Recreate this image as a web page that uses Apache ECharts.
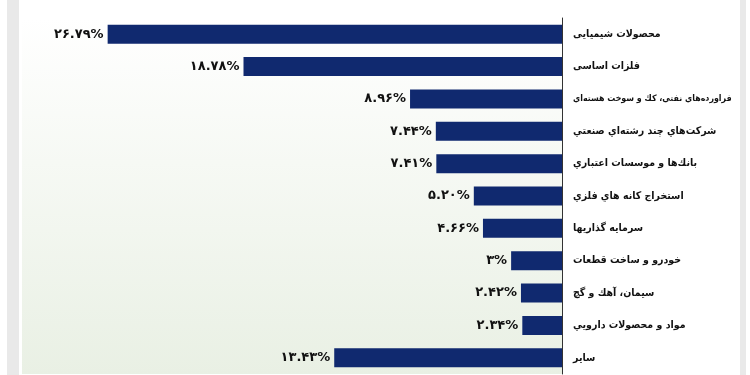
<!DOCTYPE html>
<html><head><meta charset="utf-8">
<script src="https://cdn.jsdelivr.net/npm/echarts@6/dist/echarts.min.js"></script>
<style>html,body{margin:0;padding:0;background:#fff}#c{width:750px;height:375px}</style>
</head><body><div id="c"></div>
<script>
const categories = ['محصولات شیمیایی','فلزات اساسی','فراورده‌هاي نفتي، كك و سوخت هسته‌اي','شرکت‌هاي چند رشته‌اي صنعتي','بانك‌ها و موسسات اعتباري','استخراج كانه هاي فلزي','سرمايه گذاريها','خودرو و ساخت قطعات','سيمان، آهك و گچ','مواد و محصولات دارويي','ساير'];
const values = [26.79, 18.78, 8.96, 7.44, 7.41, 5.20, 4.66, 3, 2.42, 2.34, 13.43];

const fa = s => s.replace(/[0-9]/g, d => '۰۱۲۳۴۵۶۷۸۹'[d]);
const fmt = v => fa(Number.isInteger(v) ? String(v) : v.toFixed(2)) + '%';

const chart = echarts.init(document.getElementById('c'));
chart.setOption({
  animation: false,
  backgroundColor: '#ffffff',
  graphic: [
    {type:'rect', shape:{x:7,y:0,width:12,height:375}, style:{fill:'#e9e9e9'}, z:-10},
    {type:'rect', shape:{x:740,y:0,width:6,height:375}, style:{fill:'#e9e9e9'}, z:-10}
  ],
  grid: {
    left: 22, right: 188, top: 18, bottom: 1, show: true, borderWidth: 0,
    containLabel: false, outerBoundsMode: 'none',
    backgroundColor: {type:'linear', x:0, y:0, x2:0, y2:1, colorStops:[{offset:0,color:'#ffffff'},{offset:1,color:'#e9f0e4'}]}
  },
  xAxis: { type: 'value', inverse: true, min: 0, max: 31.84, show: false },
  yAxis: {
    type: 'category', data: categories, inverse: true, position: 'right',
    axisLine: { show: true, lineStyle: { color: '#333', width: 1 } },
    axisTick: { show: false },
    axisLabel: {
      align: 'left', margin: 11, color: '#111', fontWeight: 'bold', fontSize: 10.5, fontFamily: 'DejaVu Sans Condensed',
      formatter: v => v.length > 28 ? '{s|' + v + '}' : v,
      rich: { s: { fontSize: 8.8, fontWeight: 'bold', color: '#111', fontFamily: 'DejaVu Sans Condensed' } }
    }
  },
  series: [{
    type: 'bar', data: values, barWidth: 19,
    itemStyle: { color: '#10296f' },
    label: { show: true, position: 'left', distance: 4, formatter: p => fmt(p.value), color: '#111', fontWeight: 'bold', fontSize: 13, fontFamily: 'DejaVu Sans' }
  }]
});
</script></body></html>
